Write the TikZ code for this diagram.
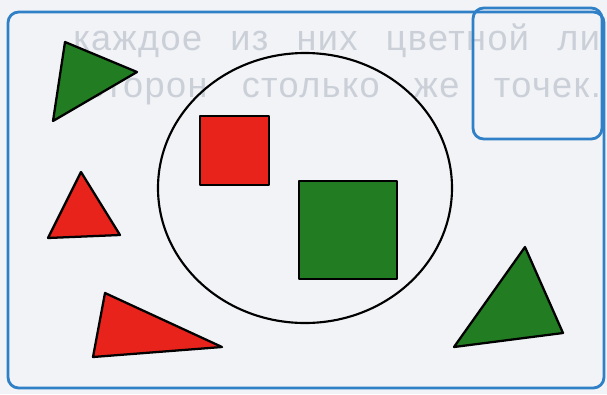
\documentclass[tikz,border=0pt]{standalone}
\usepackage{fontspec}
\newfontfamily\bgfont[LetterSpace=4]{Liberation Sans}
\definecolor{paper}{HTML}{F1F3F6}
\definecolor{frameblue}{HTML}{2F80C6}
\definecolor{ghost}{HTML}{CBD0D8}
\definecolor{shred}{HTML}{E8231C}
\definecolor{shgreen}{HTML}{217C22}
\begin{document}
\begin{tikzpicture}[x=0.75pt,y=-0.75pt,
  figure/.style={draw=black,line width=1.7pt,line join=round},
  redfig/.style={figure,fill=shred},
  greenfig/.style={figure,fill=shgreen},
  frame/.style={draw=frameblue,line width=2.1pt,rounded corners=8pt},
  ghosttext/.style={inner sep=0pt,anchor=base west,text=ghost,font=\bgfont\fontsize{27}{27}\selectfont}]
\useasboundingbox (0,0) rectangle (607,394);
\fill[paper] (0,0) rectangle (607,394);
% faint show-through text
\node[ghosttext] (line1) at (73,50) {\makebox[395pt][s]{каждое из них цветной ли}};
\node[ghosttext] (line2) at (86,97) {\makebox[386pt][s]{сторон столько же точек.}};
% frames
\draw[frame] (8,12) rectangle (604,388);
\draw[frame] (473,8) rectangle (602,139);
% circle
\draw[figure,line width=1.6pt] (305,188) ellipse [x radius=147, y radius=135];
% squares
\draw[redfig] (200,116) rectangle (269,185);
\draw[greenfig] (299,181) rectangle (397,279);
% triangles
\draw[greenfig] (65,42) -- (137,72) -- (53,121) -- cycle;
\draw[redfig] (81,172) -- (120,235) -- (48,238) -- cycle;
\draw[redfig] (105,293) -- (222,347) -- (93,357) -- cycle;
\draw[greenfig] (525,247) -- (563,333) -- (454,347) -- cycle;
\end{tikzpicture}
\end{document}
